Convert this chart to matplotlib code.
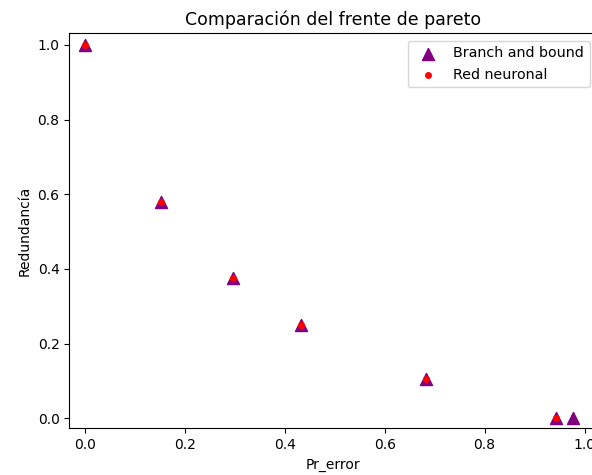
import matplotlib
matplotlib.use("Agg")
import matplotlib.pyplot as plt

# Pareto front found by each method
bb_error = [0.0, 0.153, 0.296, 0.433, 0.683, 0.942, 0.977]
bb_redundancy = [1.0, 0.58, 0.375, 0.25, 0.104, 0.0, 0.0]

nn_error = [0.0, 0.153, 0.296, 0.433, 0.683, 0.942]
nn_redundancy = [1.0, 0.58, 0.375, 0.25, 0.104, 0.0]

fig = plt.figure(figsize=(5.92, 4.75), dpi=100)
ax = fig.add_axes([0.117, 0.0983, 0.8915, 0.8312])

ax.scatter(bb_error, bb_redundancy, marker="^", s=75, color="purple",
           label="Branch and bound")
ax.scatter(nn_error, nn_redundancy, marker="o", s=16, color="red",
           label="Red neuronal")

ax.set_xlim(-0.0314, 1.025)
ax.set_ylim(-0.0268, 1.0308)
ax.set_xticks([0.0, 0.2, 0.4, 0.6, 0.8, 1.0])
ax.set_yticks([0.0, 0.2, 0.4, 0.6, 0.8, 1.0])

ax.set_xlabel("Pr_error")
ax.set_ylabel("Redundancía")
ax.set_title("Comparación del frente de pareto", fontsize=12.5)
ax.legend(loc="upper right", fontsize=10.3)

fig.savefig("out.png", dpi=100)
